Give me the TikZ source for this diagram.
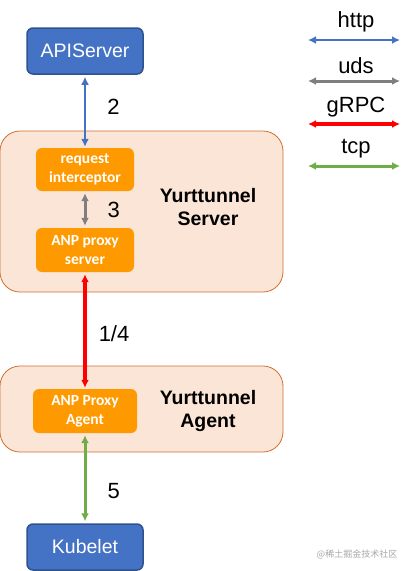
\documentclass[tikz,border=0pt]{standalone}
\usepackage{fontspec}
\setmainfont{Liberation Sans}
\newfontfamily\boxfont{Carlito}
\newfontfamily\cjk{Noto Sans CJK SC}
\usetikzlibrary{arrows.meta,positioning}

\definecolor{apiblue}{RGB}{68,114,196}
\definecolor{apiedge}{RGB}{47,82,143}
\definecolor{peach}{RGB}{251,229,214}
\definecolor{peachedge}{RGB}{206,112,48}
\definecolor{anporange}{RGB}{255,153,0}
\definecolor{udsgray}{RGB}{127,127,127}
\definecolor{tcpgreen}{RGB}{112,173,71}

\begin{document}
\begin{tikzpicture}[x=1pt,y=-1pt,
    bluebox/.style={draw=apiedge, line width=1.5pt, fill=apiblue, rounded corners=6pt,
      minimum width=116pt, minimum height=46pt, text=white,
      font=\fontsize{19.5}{22}\selectfont},
    outerbox/.style={draw=peachedge, line width=0.8pt, fill=peach, rounded corners=20pt},
    anpbox/.style={fill=anporange, rounded corners=6pt, text=white, align=center,
      inner sep=0pt, font=\boxfont\bfseries\fontsize{15.5}{19}\selectfont},
    title/.style={align=center, font=\bfseries\fontsize{19.5}{23}\selectfont},
    numlabel/.style={inner sep=0pt, text=black, font=\fontsize{22}{22}\selectfont},
    legendtext/.style={font=\fontsize{22}{22}\selectfont},
    link/.style={{Latex[length=8pt,width=8pt]}-{Latex[length=8pt,width=8pt]}},
    http/.style={link, apiblue, line width=2.5pt},
    uds/.style={link, udsgray, line width=3pt},
    grpc/.style={link, red, line width=3.5pt},
    tcp/.style={link, tcpgreen, line width=3pt}]
    \useasboundingbox (0,0) rectangle (410,571);
        % Draw the outer boxes
        \node[outerbox, minimum width=283pt, minimum height=161pt] (server) at (141.5,211.5) {};
        \node[outerbox, minimum width=283pt, minimum height=86pt] (agent) at (141.5,409) {};
        \node[title] (servertitle) at (208,207.5) {Yurttunnel\\Server};
        \node[title] (agenttitle) at (208,411) {Yurttunnel\\Agent};
        % Define the components
        \node[bluebox] (apiserver) at (85,51) {APIServer};
        \node[anpbox, minimum width=98pt, minimum height=43pt] (interceptor) at (85,169.5) {request\\interceptor};
        \node[anpbox, minimum width=98pt, minimum height=44pt] (proxyserver) at (85,250) {ANP proxy\\server};
        \node[anpbox, minimum width=104pt, minimum height=44pt] (proxyagent) at (85,411) {ANP Proxy\\Agent};
        \node[bluebox] (kubelet) at (85,547) {Kubelet};
        % Draw the links
        \draw[http] ([yshift=-2pt]apiserver.south) -- ([yshift=1pt]interceptor.north)
            node[numlabel, pos=0.43, right=21pt] (two) {2};
        \draw[uds] ([yshift=-2pt]interceptor.south) -- ([yshift=2pt]proxyserver.north)
            node[numlabel, pos=0.5, right=21pt] (three) {3};
        \draw[grpc] ([yshift=-2pt]proxyserver.south) -- ([yshift=1pt]proxyagent.north)
            node[numlabel, pos=0.52, right=12pt] (onefour) {1/4};
        \draw[tcp] ([yshift=-2pt]proxyagent.south) -- ([yshift=2pt]kubelet.north)
            node[numlabel, pos=0.65, right=21pt] (five) {5};
        % Draw the legend
        \node[legendtext] (httptext) at (356,22) {http};
        \node[legendtext] (udstext) at (356,66) {uds};
        \node[legendtext] (grpctext) at (356,107) {gRPC};
        \node[legendtext] (tcptext) at (356,149) {tcp};
        \coordinate (httpL) at (308,40); \coordinate (httpR) at (400,40);
        \coordinate (udsL) at (308,81); \coordinate (udsR) at (400,81);
        \coordinate (grpcL) at (308,124); \coordinate (grpcR) at (400,124);
        \coordinate (tcpL) at (308,166); \coordinate (tcpR) at (400,166);
        \draw[http] (httpL) -- (httpR);
        \draw[uds] (udsL) -- (udsR);
        \draw[grpc] (grpcL) -- (grpcR);
        \draw[tcp] (tcpL) -- (tcpR);
        % Watermark
        \node[text=black!35, font=\cjk\fontsize{9}{9}\selectfont] (mark) at (357,554) {@稀土掘金技术社区};
\end{tikzpicture}
\end{document}
